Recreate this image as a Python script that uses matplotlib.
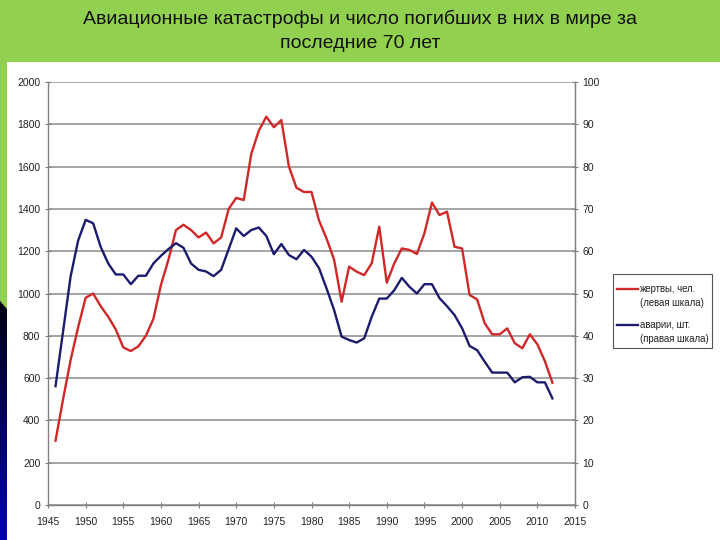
import matplotlib
matplotlib.use("Agg")
import matplotlib.pyplot as plt
import numpy as np
from matplotlib.patches import Rectangle
from matplotlib.lines import Line2D
from matplotlib.colors import LinearSegmentedColormap

plt.rcParams['font.family'] = ['Liberation Sans', 'DejaVu Sans']

years = list(range(1946, 2013))
deaths = [304, 500, 685, 840, 980, 1000, 940, 890, 830, 745,
          728, 750, 800, 880, 1040, 1160, 1300, 1325, 1300, 1265,
          1288, 1237, 1265, 1400, 1452, 1442, 1660, 1770, 1836, 1786,
          1820, 1600, 1500, 1480, 1480, 1345, 1260, 1160, 961, 1127,
          1103, 1087, 1143, 1316, 1051, 1143, 1213, 1206, 1187, 1285,
          1430, 1371, 1387, 1221, 1213, 993, 972, 860, 807, 807,
          835, 765, 741, 807, 760, 680, 578]
crashes = [28.1, 41.0, 54.0, 62.5, 67.4, 66.6, 61.0, 57.1, 54.5, 54.5,
           52.2, 54.2, 54.2, 57.1, 58.9, 60.5, 61.9, 60.8, 57.1, 55.6,
           55.2, 54.1, 55.6, 60.5, 65.4, 63.6, 65.0, 65.6, 63.6, 59.3,
           61.7, 59.1, 58.1, 60.3, 58.7, 56.0, 51.2, 46.1, 39.8, 39.0,
           38.4, 39.4, 44.5, 48.8, 48.8, 50.8, 53.7, 51.6, 50.0, 52.2,
           52.2, 48.9, 47.0, 44.9, 41.8, 37.6, 36.6, 33.9, 31.3, 31.3,
           31.3, 29.0, 30.2, 30.3, 29.0, 29.0, 25.2]

title = "Авиационные катастрофы и число погибших в них в мире за\nпоследние 70 лет"
label_deaths = "жертвы, чел.\n(левая шкала)"
label_crashes = "аварии, шт.\n(правая шкала)"
left_ticks = list(range(0, 2001, 200))
right_ticks = list(range(0, 101, 10))
x_ticks = list(range(1945, 2016, 5))

GREEN = "#92D050"
RED = "#D02828"
NAVY = "#1C1C6C"
GRID = "#8C8C8C"

fig = plt.figure(figsize=(7.2, 5.4), dpi=100)
fig.patch.set_facecolor(GREEN)

W, H = 720.0, 540.0
# white panel
fig.patches.append(Rectangle((7 / W, 0), 1 - 7 / W, (H - 62) / H,
                             transform=fig.transFigure, facecolor="white",
                             edgecolor="none", zorder=-5))
# left dark gradient strip
grad = np.linspace(0, 1, 256).reshape(-1, 1)
cmap = LinearSegmentedColormap.from_list("bk", ["#0000B0", "#000010"])
gax = fig.add_axes([0, 0, 7 / W, (H - 300) / H])
gax.imshow(grad, aspect="auto", cmap=cmap, origin="lower", extent=[0, 1, 0, 1])
gax.fill([0, 1, 1], [1.0, 1.0, 1 - 8 / (H - 300)], color=GREEN)
gax.set_xlim(0, 1)
gax.set_ylim(0, 1)
gax.axis("off")

fig.text(0.5, 1 - 31 / H, title, ha="center", va="center", fontsize=14,
         color="#101010", linespacing=1.55)

ax = fig.add_axes([48 / W, (H - 505) / H, 527 / W, 423 / H])
ax.set_facecolor("none")
ax.set_xlim(1945, 2015)
ax.set_ylim(0, 2000)
ax.set_yticks(left_ticks)
ax.set_xticks(x_ticks)
ax.yaxis.grid(True, color=GRID, linewidth=1.1)
ax.set_axisbelow(True)
ax.spines["top"].set_visible(False)
for s in ["left", "bottom", "right"]:
    ax.spines[s].set_color("#808080")
    ax.spines[s].set_linewidth(1.0)
ax.tick_params(axis="both", direction="inout", length=5, width=0.8,
               color="#808080", labelsize=7.5, labelcolor="#222222")
ax.tick_params(axis="y", pad=3)
ax.tick_params(axis="x", pad=6)

ax2 = ax.twinx()
ax2.set_ylim(0, 100)
ax2.set_yticks(right_ticks)
for s in ["top", "left", "bottom"]:
    ax2.spines[s].set_visible(False)
ax2.spines["right"].set_color("#808080")
ax2.tick_params(axis="y", direction="inout", length=5, width=0.8,
                color="#808080", labelsize=7.5, labelcolor="#222222", pad=3)

ax.plot(years, deaths, color=RED, linewidth=1.7, solid_joinstyle="round",
        zorder=3)
ax2.plot(years, crashes, color=NAVY, linewidth=1.7, solid_joinstyle="round",
         zorder=3)

# legend (frame, handles at the first text line)
fig.patches.append(Rectangle((612.5 / W, 1 - 348 / H), 99.5 / W, 74 / H,
                             transform=fig.transFigure, facecolor="white",
                             edgecolor="#555555", linewidth=0.8, zorder=4))
for label, color, y0 in [(label_deaths, RED, 289), (label_crashes, NAVY, 325)]:
    fig.lines.append(Line2D([617 / W, 638 / W], [1 - y0 / H, 1 - y0 / H],
                            transform=fig.transFigure, color=color,
                            linewidth=1.7, zorder=5))
    for i, part in enumerate(label.split("\n")):
        fig.text(639.5 / W, 1 - (y0 + 14.5 * i) / H, part, ha="left",
                 va="center", fontsize=6.9, color="#222222", zorder=6)

fig.savefig("out.png", dpi=100, facecolor=fig.get_facecolor())
